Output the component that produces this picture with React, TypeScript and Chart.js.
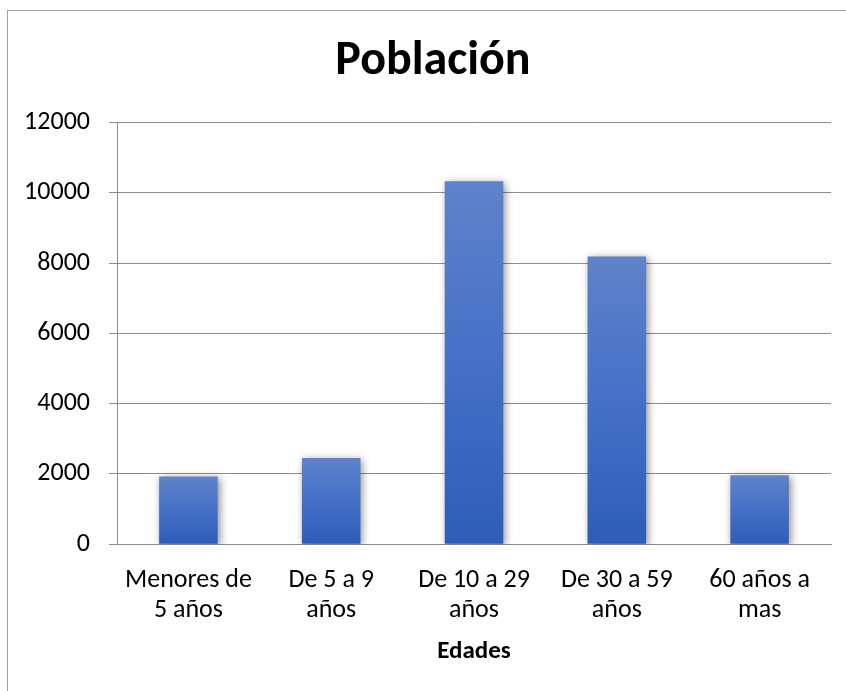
import React, { useEffect, useRef } from "react";
import { Chart, registerables } from "chart.js";

Chart.register(...registerables);

const categories: string[][] = [
  ["Menores de", "5 años"],
  ["De 5 a 9", "años"],
  ["De 10 a 29", "años"],
  ["De 30 a 59", "años"],
  ["60 años a", "mas"],
];
const poblacion: number[] = [1930, 2450, 10330, 8190, 1960];
const titleText = "Población";
const xTitle = "Edades";

const FONT = "Carlito, Calibri, Lato, 'Liberation Sans', sans-serif";

const framePlugin = {
  id: "frame",
  beforeDraw(chart: any) {
    const ctx = chart.ctx;
    ctx.save();
    ctx.fillStyle = "#ffffff";
    ctx.fillRect(0, 0, chart.width, chart.height);
    ctx.strokeStyle = "#a0a0a0";
    ctx.lineWidth = 1;
    ctx.strokeRect(7.5, 10.5, chart.width + 50, chart.height + 50);
    ctx.restore();
  },
};

const titleShiftPlugin = {
  id: "titleShift",
  afterLayout(chart: any) {
    const t = chart.titleBlock;
    if (t) {
      t.left = 35;
      t.right = 831;
    }
  },
};

const shadowPlugin = {
  id: "barShadow",
  beforeDatasetDraw(chart: any) {
    const ctx = chart.ctx;
    ctx.save();
    ctx.shadowColor = "rgba(0,0,0,0.45)";
    ctx.shadowBlur = 8;
    ctx.shadowOffsetX = 2;
    ctx.shadowOffsetY = 2;
  },
  afterDatasetDraw(chart: any) {
    chart.ctx.restore();
  },
};

export default function App() {
  const ref = useRef<HTMLCanvasElement | null>(null);
  useEffect(() => {
    if (!ref.current) return;
    const chart = new Chart(ref.current, {
      type: "bar",
      data: {
        labels: categories,
        datasets: [
          {
            label: "Población",
            data: poblacion,
            categoryPercentage: 1,
            barPercentage: 0.41,
            borderWidth: 0,
            backgroundColor: (c: any) => {
              const chart = c.chart;
              const y = chart.scales && chart.scales.y;
              if (!y || c.type !== "data" || !chart.chartArea) return "#4472c4";
              const top = y.getPixelForValue(c.raw);
              const bot = y.getPixelForValue(0);
              if (!isFinite(top) || !isFinite(bot) || top === bot) return "#4472c4";
              const g = chart.ctx.createLinearGradient(0, top, 0, bot);
              g.addColorStop(0, "#5f83cb");
              g.addColorStop(0.5, "#4470c6");
              g.addColorStop(1, "#2e5db8");
              return g;
            },
          },
        ],
      },
      options: {
        responsive: false,
        animation: false,
        layout: { padding: { left: 0, right: 15, top: 0, bottom: 24 } },
        plugins: {
          legend: { display: false },
          tooltip: { enabled: false },
          title: {
            display: true,
            text: titleText,
            color: "#000000",
            font: { family: FONT, size: 48, weight: "bold", lineHeight: 1.2 },
            padding: { top: 33, bottom: 32 },
          },
        },
        scales: {
          x: {
            grid: { display: false, drawTicks: false },
            border: { display: true, color: "#8c8c8c", width: 1 },
            ticks: {
              color: "#000000",
              padding: 21,
              maxRotation: 0,
              autoSkip: false,
              font: { family: FONT, size: 26, lineHeight: 1.15 },
            },
            title: {
              display: true,
              text: xTitle,
              color: "#000000",
              font: { family: FONT, size: 25, weight: "bold", lineHeight: 1.2 },
              padding: { top: -9, bottom: 0 },
            },
          },
          y: {
            min: 0,
            max: 12000,
            afterFit: (s: any) => {
              s.width = 117;
            },
            grid: {
              color: "#8c8c8c",
              lineWidth: 1,
              drawTicks: true,
              tickLength: 8,
            },
            border: { display: true, color: "#8c8c8c", width: 1 },
            ticks: {
              stepSize: 2000,
              color: "#000000",
              padding: 19,
              font: { family: FONT, size: 26 },
              callback: (v: any) => String(v),
            },
          },
        },
      },
      plugins: [framePlugin, titleShiftPlugin, shadowPlugin],
    });
    return () => chart.destroy();
  }, []);
  return (
    <div style={{ position: "fixed", left: 0, top: 0, width: 846, height: 691 }}>
      <canvas ref={ref} width={846} height={691} style={{ width: 846, height: 691 }} />
    </div>
  );
}
